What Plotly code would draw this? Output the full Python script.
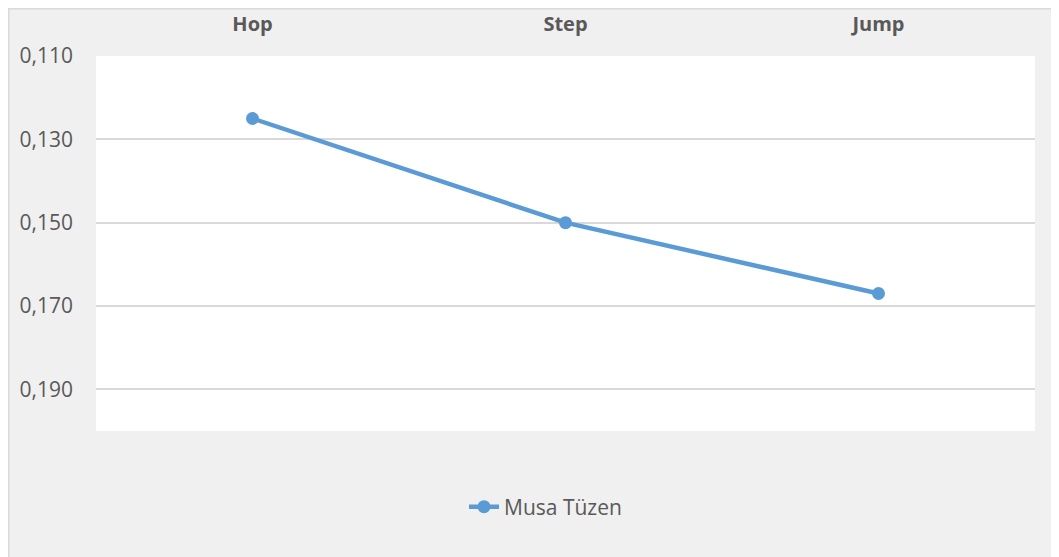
import plotly.graph_objects as go

categories = ["Hop", "Step", "Jump"]
values = [0.125, 0.150, 0.167]
series_name = "Musa Tüzen"
y_ticks = [0.110, 0.130, 0.150, 0.170, 0.190]

FONT = "Open Sans, sans-serif"

fig = go.Figure()
fig.add_trace(go.Scatter(
    x=categories, y=values, name=series_name, mode="lines+markers",
    line=dict(color="#5b9bd5", width=4.5),
    marker=dict(color="#5b9bd5", size=13),
))

# page has an 8px body margin, so the figure is 8px smaller than the window
W, H = 1051, 549
L, R, T, B = 88, 24, 48, 126
pw, ph = W - L - R, H - T - B

def px(x):
    return (x - L) / pw

def py(y):
    return (H - B - y) / ph

fig.update_layout(
    width=W, height=H,
    margin=dict(l=L, r=R, t=T, b=B, pad=0, autoexpand=False),
    paper_bgcolor="#f0f0f0",
    plot_bgcolor="white",
    separators=",.",
    font=dict(family=FONT, size=21, color="#595959"),
    showlegend=True,
    legend=dict(orientation="h", x=px(456), xanchor="left", y=py(499), yanchor="middle",
                font=dict(family=FONT, size=21, color="#595959"), bgcolor="rgba(0,0,0,0)"),
    shapes=[
        dict(type="line", xref="paper", yref="paper", x0=px(0), x1=px(W), y0=py(0.5), y1=py(0.5),
             line=dict(color="#d9d9d9", width=2)),
        dict(type="line", xref="paper", yref="paper", x0=px(0.5), x1=px(0.5), y0=py(0), y1=py(H),
             line=dict(color="#d9d9d9", width=2)),
    ],
)
fig.update_xaxes(
    type="category", side="top", showgrid=False, showline=False, ticks="",
    range=[-0.5, 2.5], ticklabelstandoff=20, automargin=False,
    tickfont=dict(size=20, color="#595959", family=FONT, weight="bold"),
)
fig.update_yaxes(
    range=[0.200, 0.110], tickvals=y_ticks, tickformat=".3f",
    showgrid=True, gridcolor="#d9d9d9", gridwidth=2, zeroline=False, showline=False,
    ticks="", ticklabelstandoff=22, automargin=False,
    tickfont=dict(size=21, color="#595959", family=FONT),
)
fig.write_html("out.html")
